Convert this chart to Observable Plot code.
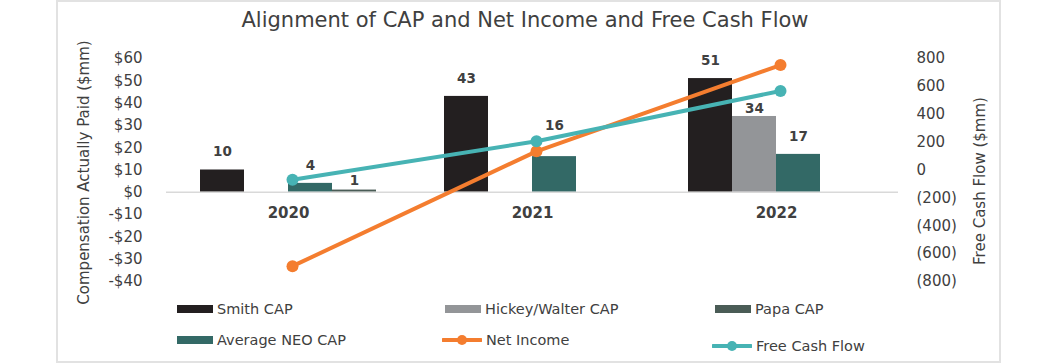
<!DOCTYPE html>
<html>
<head>
<meta charset="utf-8">
<script src="https://cdn.jsdelivr.net/npm/d3@7"></script>
<script src="https://cdn.jsdelivr.net/npm/@observablehq/plot@0.6"></script>
<style>
  body { margin: 0; background: #fff; }
  #wrap { position: relative; width: 1058px; height: 364px; overflow: hidden; font-family: "DejaVu Sans", sans-serif; color: #404040; }
  #frame { position: absolute; left: 56px; top: 0px; width: 945px; height: 363px; border: 2px solid #e2e2e2; box-sizing: border-box; }
  #title { position: absolute; left: 0; width: 1050px; top: 8px; text-align: center; font-size: 21px; line-height: 24px; color: #404040; }
  .layer { position: absolute; left: 0; top: 0; }
  .leg { position: absolute; height: 20px; display: flex; align-items: center; font-size: 14.5px; color: #404040; white-space: nowrap; }
  .leg svg { margin-right: 4px; }
</style>
</head>
<body>
<div id="wrap">
  <div id="frame"></div>
  <div id="title">Alignment of CAP and Net Income and Free Cash Flow</div>
  <div id="bars" class="layer"></div>
  <div id="top" class="layer"></div>
  <div id="legend"></div>
</div>
<script>
// ---- data ----
const years = ["2020", "2021", "2022"];
const barSeries = ["Smith CAP", "Hickey/Walter CAP", "Average NEO CAP", "Papa CAP"];
const smithCAP = [10, 43, 51];
const hickeyWalterCAP = [null, null, 34];
const averageNeoCAP = [4, 16, 17];
const papaCAP = [1, null, null];
const netIncome = [-690, 134, 753];
const freeCashFlow = [-70, 206, 567];
const leftTicks = [-40, -30, -20, -10, 0, 10, 20, 30, 40, 50, 60];
const rightTicks = [-800, -600, -400, -200, 0, 200, 400, 600, 800];
const leftTitle = "Compensation Actually Paid ($mm)";
const rightTitle = "Free Cash Flow ($mm)";
const legendLabels = ["Smith CAP", "Hickey/Walter CAP", "Papa CAP", "Average NEO CAP", "Net Income", "Free Cash Flow"];

// ---- styles ----
const colors = {
  "Smith CAP": "#231f20",
  "Hickey/Walter CAP": "#939598",
  "Average NEO CAP": "#336966",
  "Papa CAP": "#4a5c56",
  "Net Income": "#f47d2f",
  "Free Cash Flow": "#47b3b4"
};
// manual label placement (as in the original chart), default offset otherwise
const labelDefaultDy = -18;
const labelNudge = { "2020|Papa CAP": -9, "2021|Average NEO CAP": -31, "2022|Hickey/Walter CAP": -8 };

const W = 1058, H = 364;
const margins = { marginLeft: 166, marginRight: 160, marginTop: 58, marginBottom: 83 };
const yDomain = [-40, 60];
// right axis (-800..800) aligned with left axis (-40..60)
const toLeft = r => r / 16 + 10;
const toRight = l => Math.round((l - 10) * 16);
const fmtLeft = d => (d < 0 ? "-$" + (-d) : "$" + d);
const fmtRight = r => (r < 0 ? "(" + (-r) + ")" : String(r));

const seriesValues = [smithCAP, hickeyWalterCAP, averageNeoCAP, papaCAP];
const barRows = [];
years.forEach((y, i) => {
  barSeries.forEach((s, j) => {
    const v = seriesValues[j][i];
    if (v != null) barRows.push({ year: y, series: s, value: v });
  });
});
const niRows = years.map((y, i) => ({ year: y, value: netIncome[i] }));
const fcfRows = years.map((y, i) => ({ year: y, value: freeCashFlow[i] }));

const baseStyle = { fontFamily: "DejaVu Sans, sans-serif", fontSize: "15px", color: "#404040", background: "transparent", overflow: "visible" };

// ---- bars (faceted by year) ----
const labelMarks = barRows.map(r => {
  const key = r.year + "|" + r.series;
  return Plot.text([r], { fx: "year", x: "series", y: "value", text: d => String(d.value), dy: labelNudge[key] ?? labelDefaultDy, fontWeight: "bold", fontSize: 13.5, fill: "#404040" });
});
const barsPlot = Plot.plot({
  width: W, height: H, ...margins,
  style: baseStyle,
  fx: { domain: years, paddingInner: 0.27, paddingOuter: 0.135, axis: null, label: null },
  x: { domain: barSeries, padding: 0, axis: null },
  y: { domain: yDomain, axis: null },
  color: { domain: barSeries, range: barSeries.map(s => colors[s]) },
  marks: [
    Plot.barY(barRows, { fx: "year", x: "series", y: "value", fill: "series" }),
    ...labelMarks
  ]
});
document.getElementById("bars").appendChild(barsPlot);

// ---- axes, baseline, lines ----
const topPlot = Plot.plot({
  width: W, height: H, ...margins,
  style: baseStyle,
  x: { type: "point", domain: years, padding: 0.5, axis: null },
  y: { domain: yDomain, axis: null },
  marks: [
    Plot.ruleY([0], { stroke: "#d9d9d9", strokeWidth: 1.5 }),
    Plot.axisY(leftTicks, { anchor: "left", tickSize: 0, tickPadding: 24, tickFormat: fmtLeft, label: null, fontSize: 15 }),
    Plot.axisY(rightTicks.map(toLeft), { anchor: "right", tickSize: 0, tickPadding: 18, tickFormat: d => fmtRight(toRight(d)), label: null, fontSize: 15 }),
    Plot.text([leftTitle], { frameAnchor: "left", textAnchor: "middle", dx: -82, dy: 2.5, rotate: -90, text: d => d, fontSize: 15, fill: "#404040" }),
    Plot.text([rightTitle], { frameAnchor: "right", textAnchor: "middle", dx: 82, dy: 11, rotate: -90, text: d => d, fontSize: 15, fill: "#404040" }),
    Plot.text(years, { x: d => d, y: () => 0, dy: 21, text: d => d, fontWeight: "bold", fontSize: 15, fill: "#404040" }),
    Plot.line(niRows, { x: "year", y: d => toLeft(d.value), stroke: colors["Net Income"], strokeWidth: 4, dx: 4 }),
    Plot.dot(niRows, { x: "year", y: d => toLeft(d.value), r: 6, fill: colors["Net Income"], dx: 4 }),
    Plot.line(fcfRows, { x: "year", y: d => toLeft(d.value), stroke: colors["Free Cash Flow"], strokeWidth: 4, dx: 4 }),
    Plot.dot(fcfRows, { x: "year", y: d => toLeft(d.value), r: 6, fill: colors["Free Cash Flow"], dx: 4 })
  ]
});
document.getElementById("top").appendChild(topPlot);

// ---- legend ----
const legCols = [177, 445, 715];
const legRows = [308.5, 340];
const legend = document.getElementById("legend");
legendLabels.forEach((name, i) => {
  const col = i % 3, row = Math.floor(i / 3);
  const isLine = name === "Net Income" || name === "Free Cash Flow";
  const item = document.createElement("div");
  item.className = "leg";
  const cy = legRows[row] + (name === "Free Cash Flow" ? 6 : 0);
  item.style.left = (legCols[col] - (isLine ? 3 : 0)) + "px";
  item.style.top = (cy - 10) + "px";
  const c = colors[name];
  const sw = isLine
    ? `<svg width="40" height="14"><line x1="1" y1="7" x2="39" y2="7" stroke="${c}" stroke-width="4" stroke-linecap="round"/><circle cx="20" cy="7" r="5" fill="${c}"/></svg>`
    : `<svg width="36" height="8"><rect width="36" height="8" fill="${c}"/></svg>`;
  item.innerHTML = sw + `<span>${name}</span>`;
  legend.appendChild(item);
});
</script>
</body>
</html>
